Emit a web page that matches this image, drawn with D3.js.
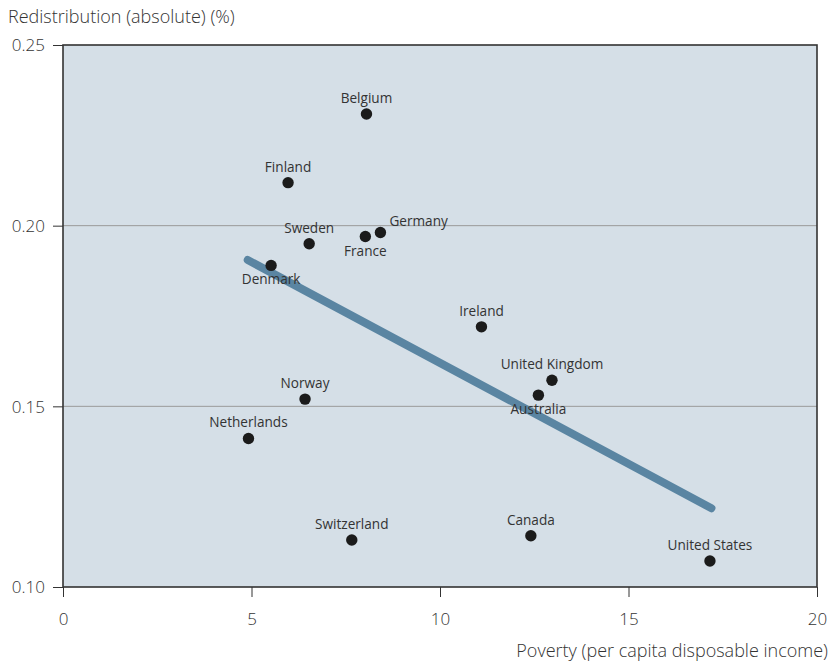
<!DOCTYPE html>
<html><head><meta charset="utf-8">
<script src="https://cdn.jsdelivr.net/npm/d3@7"></script>
<style>
body{margin:0;background:#fff;}
text{font-family:"Open Sans","Lato",sans-serif;}
</style></head>
<body>
<svg id="chart" width="830" height="664"></svg>
<script>
const countries = ["Belgium","Finland","Sweden","France","Germany","Denmark","Ireland","United Kingdom","Australia","Norway","Netherlands","Switzerland","Canada","United States"];
const poverty = [8.05,5.97,6.53,8.02,8.42,5.52,11.1,12.97,12.61,6.42,4.92,7.66,12.41,17.16];
const redistribution = [0.2309,0.2119,0.195,0.197,0.1981,0.189,0.172,0.1572,0.1531,0.152,0.1411,0.113,0.1142,0.1072];
const labelPos = ["above","above","above","below","right","below","above","above","below","above","above","above","above","above"];
const trendX = [4.9,17.2];
const trendY = [0.1905,0.1218];
const xTicks = [0,5,10,15,20];
const yTicks = [0.10,0.15,0.20,0.25];

const svg = d3.select("#chart");
const m = {l:63,r:13,t:45,b:77};
const W = 830, H = 664;
const x = d3.scaleLinear().domain([0,20]).range([m.l, W-m.r]);
const y = d3.scaleLinear().domain([0.10,0.25]).range([H-m.b, m.t]);

svg.append("rect").attr("x",x(0)).attr("y",y(0.25)).attr("width",x(20)-x(0)).attr("height",y(0.10)-y(0.25)).attr("fill","#d5dfe7");

// gridlines
svg.append("g").selectAll("line").data([0.15,0.20]).join("line")
  .attr("x1",x(0)).attr("x2",x(20)).attr("y1",d=>y(d)).attr("y2",d=>y(d))
  .attr("stroke","#9a9a9a").attr("stroke-width",1);

// axes
const xAxis = svg.append("g").attr("transform",`translate(0,${y(0.10)})`)
  .call(d3.axisBottom(x).tickValues(xTicks).tickFormat(d3.format("d")).tickSize(10).tickPadding(16));
const yAxis = svg.append("g").attr("transform",`translate(${x(0)},0)`)
  .call(d3.axisLeft(y).tickValues(yTicks).tickFormat(d3.format(".2f")).tickSize(10).tickPadding(8));
[xAxis,yAxis].forEach(a=>{
  a.select(".domain").remove();
  a.selectAll("line").attr("stroke","#333");
  a.selectAll("text").attr("fill","#333").style("font-size","17px").style("font-weight","300").style("font-family","'Open Sans',sans-serif");
});
yAxis.selectAll("text").attr("dy","0.35em");

// frame
svg.append("rect").attr("x",x(0)).attr("y",y(0.25)).attr("width",x(20)-x(0)).attr("height",y(0.10)-y(0.25))
  .attr("fill","none").attr("stroke","#333").attr("stroke-width",1.6);

// trend line
svg.append("line").attr("x1",x(trendX[0])).attr("y1",y(trendY[0])).attr("x2",x(trendX[1])).attr("y2",y(trendY[1]))
  .attr("stroke","#5a85a2").attr("stroke-width",8).attr("stroke-linecap","round");

// points
const data = countries.map((c,i)=>({c, px:poverty[i], ry:redistribution[i], pos:labelPos[i]}));
svg.append("g").selectAll("circle").data(data).join("circle")
  .attr("cx",d=>x(d.px)).attr("cy",d=>y(d.ry)).attr("r",5.7).attr("fill","#1b1b1b");

svg.append("g").selectAll("text").data(data).join("text")
  .attr("x",d=>d.pos==="right"? x(d.px)+9 : x(d.px))
  .attr("y",d=>d.pos==="above"? y(d.ry)-11 : d.pos==="below"? y(d.ry)+19 : y(d.ry)-7)
  .attr("text-anchor",d=>d.pos==="right"?"start":"middle")
  .attr("fill","#333").style("font-size","13.6px")
  .text(d=>d.c);

// titles
svg.append("text").attr("x",8).attr("y",23).attr("fill","#333").style("font-size","18px").style("font-weight","300")
  .text("Redistribution (absolute) (%)");
svg.append("text").attr("x",828).attr("y",657).attr("text-anchor","end").attr("fill","#333").style("font-size","18px").style("font-weight","300")
  .text("Poverty (per capita disposable income)");
</script>
</body></html>
